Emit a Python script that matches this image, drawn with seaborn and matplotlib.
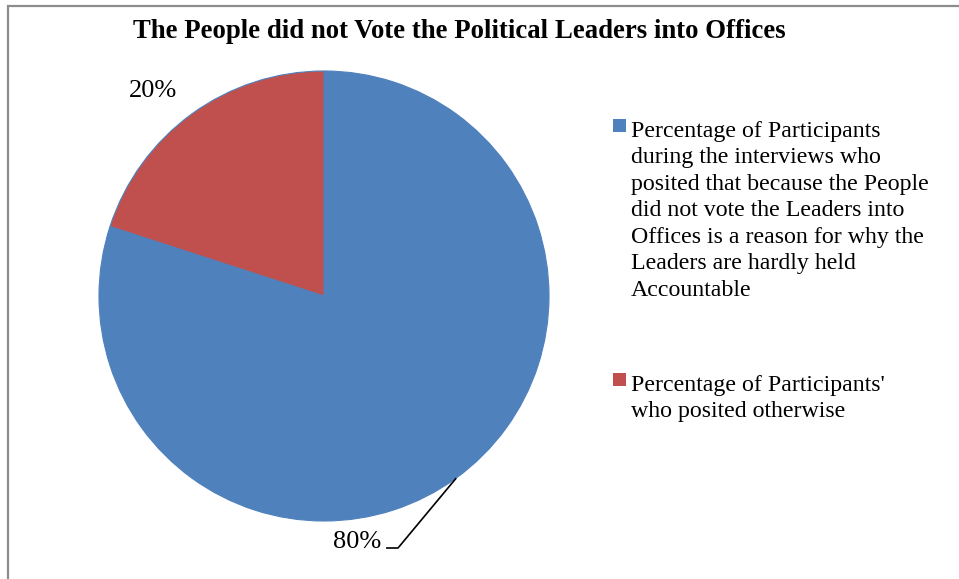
import matplotlib
matplotlib.use("Agg")
import matplotlib.pyplot as plt
import seaborn as sns
import numpy as np
from matplotlib.patches import Rectangle

sns.set_theme(style="white")
plt.rcParams["font.family"] = ["Liberation Serif", "DejaVu Serif"]
plt.rcParams["text.color"] = "black"

# Data
title = "The People did not Vote the Political Leaders into Offices"
categories = [
    "Percentage of Participants\nduring the interviews who\nposited that because the People\n"
    "did not vote the Leaders into\nOffices is a reason for why the\nLeaders are hardly held\nAccountable",
    "Percentage of Participants'\nwho posited otherwise",
]
values = [80, 20]
colors = ["#4F81BD", "#C0504D"]

W, H = 959, 579
fig = plt.figure(figsize=(W / 100, H / 100), dpi=100)
fig.patch.set_facecolor("white")

# Outer chart frame (top and left edges visible)
fig.add_artist(Rectangle((8 / W, -0.1), 1.2, 1.1 - 6 / H, transform=fig.transFigure,
                         fill=False, edgecolor="#8c8c8c", linewidth=1.6))

# Square axes holding the pie
cx, cy, r = 324, 296, 225
ax = fig.add_axes([(cx - r) / W, (H - cy - r) / H, 2 * r / W, 2 * r / H])
wedges, _ = ax.pie(values, colors=colors, startangle=90, counterclock=False,
                   radius=1, wedgeprops=dict(edgecolor="#4F81BD", linewidth=0.8))
ax.set_aspect("auto")
ax.set_xlim(-1, 1)
ax.set_ylim(-1, 1)
ax.axis("off")

fs = 19

def mid_angle(w):
    return np.deg2rad((w.theta1 + w.theta2) / 2)

# 20% label outside the red slice
ax.text(-0.76, 0.91, f"{values[1]}%", ha="center", va="center", fontsize=fs)

# 80% label with leader line from the blue slice edge
a = mid_angle(wedges[0])
ex, ey = np.cos(a), np.sin(a)
ax.plot([ex, 0.329, 0.276], [ey, -1.12, -1.12], color="black", lw=1.2,
        clip_on=False, solid_capstyle="butt")
ax.text(0.253, -1.095, f"{values[0]}%", ha="right", va="center", fontsize=fs)

# Title
fig.text(459 / W, 1 - 31 / H, title, ha="center", va="center",
         fontsize=19.3, fontweight="bold")

# Legend: colour square beside the first line of each wrapped label
lfs = 17.2
entry_tops = [119, 373]
for wdg, label, top in zip(wedges, categories, entry_tops):
    fig.add_artist(Rectangle((613 / W, 1 - (top + 13) / H), 13 / W, 13 / H,
                             transform=fig.transFigure,
                             facecolor=wdg.get_facecolor(), edgecolor="none"))
    fig.text(631 / W, 1 - (top + 2) / H, label, ha="left", va="top",
             fontsize=lfs, linespacing=1.34)

fig.savefig("out.png", dpi=100, facecolor="white")
